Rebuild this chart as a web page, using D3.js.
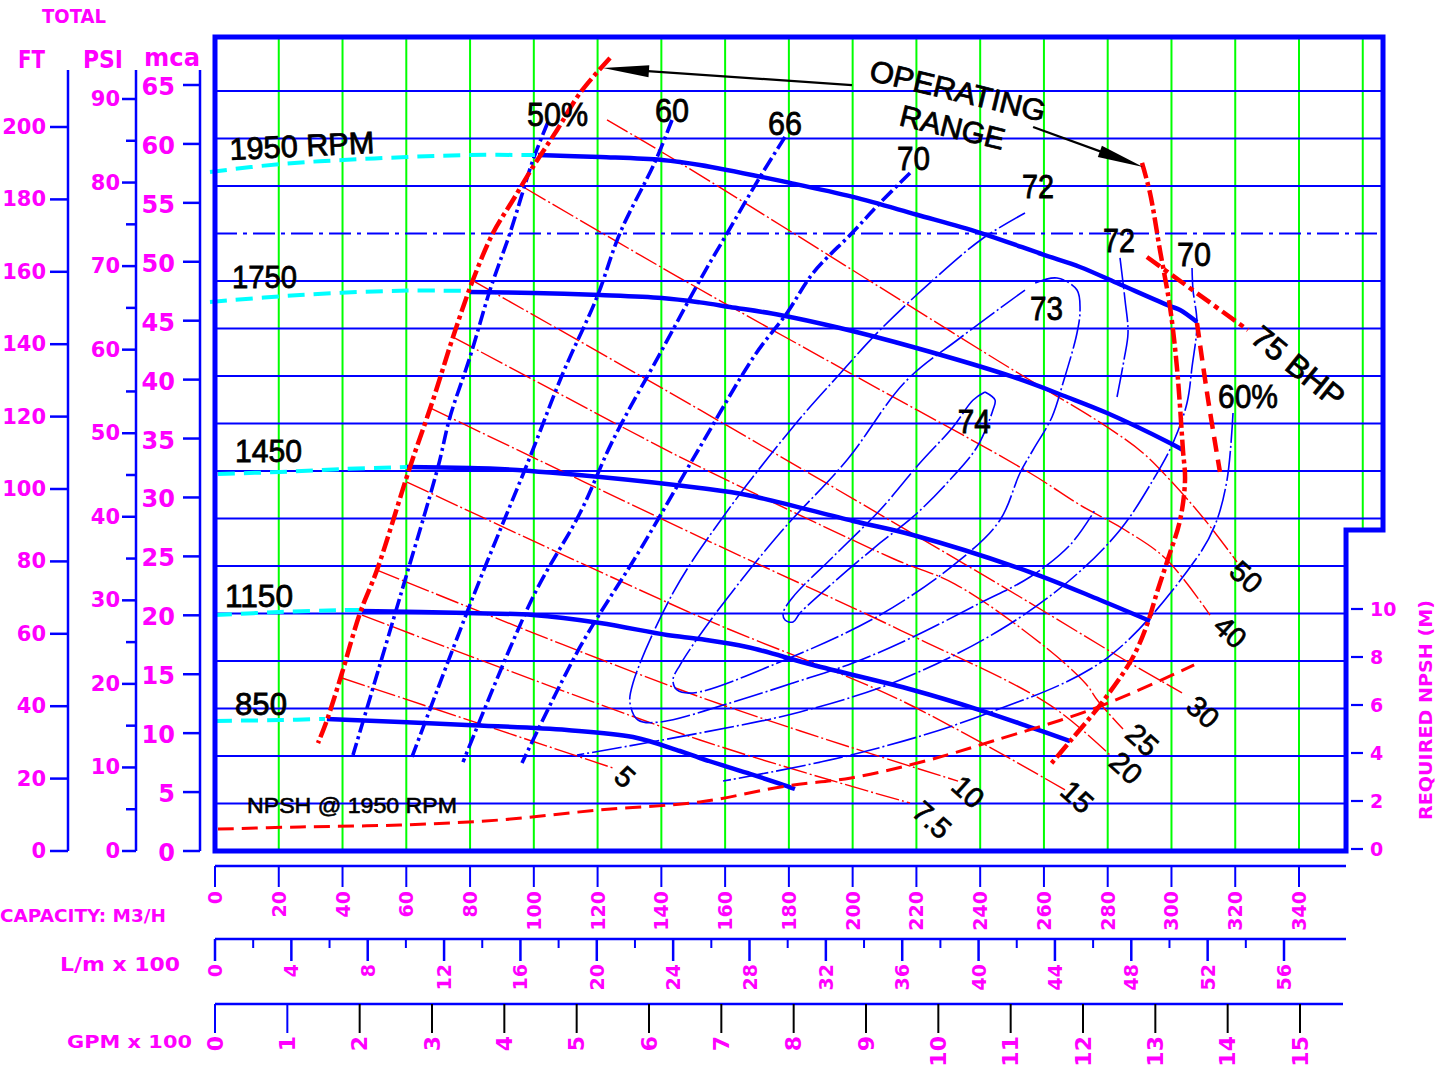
<!DOCTYPE html>
<html><head><meta charset="utf-8">
<script src="https://cdn.jsdelivr.net/npm/d3@7/dist/d3.min.js"></script>
<style>body{margin:0;background:#fff}svg{display:block}</style>
</head><body>
<svg id="c" width="1437" height="1067"></svg>
<script>
// ---------------- DATA (Q in m3/h, H in m of water column) ----------------
const capTicks = d3.range(0, 341, 20);
const lmTicks = d3.range(0, 57, 4);
const lmMinor = d3.range(2, 55, 4);
const gpmTicks = d3.range(0, 16, 1);
const ftTicks = d3.range(0, 201, 20);
const psiTicks = d3.range(0, 91, 10);
const psiMinor = d3.range(5, 86, 10);
const mcaTicks = d3.range(0, 66, 5);
const npshTicks = [0, 2, 4, 6, 8, 10];
const vGrid = d3.range(20, 361, 20);
const hGrid = d3.range(4, 65, 4);
const hGridDashDot = [52];
const frameTopH = 68.55, frameRightQ = 366.35, frameStepH = 27.03, frameInnerQ = 354.75;

// head curves: dashed part (cyan) and solid part (blue)
const rpm1950Ext = [[-1.57,57.18],[20.39,57.85],[40.15,58.19],[60.22,58.44],[79.98,58.61],[100.37,58.61]];
const rpm1950 = [[101.3,58.61],[120.8,58.44],[140.2,58.19],[152.1,57.77],[180.4,56.26],[200.1,55.08],[219.9,53.6],[240,52.06],[260,50.2],[271.3,49.18],[282.9,47.83],[299.5,45.89],[302.7,45.56],[308,44.55]];
const rpm1750Ext = [[-1.57,46.23],[26.66,46.82],[58.0,47.18],[80.0,47.16]];
const rpm1750 = [[80,47.07],[100,46.99],[120.8,46.82],[140.2,46.57],[152.1,46.2],[161.5,45.81],[177.2,45.14],[196,44.04],[218.9,42.44],[250.3,39.92],[267.2,38.23],[279.8,36.88],[299.5,34.36],[303.6,33.77]];
const rpm1450Ext = [[0.94,31.75],[20.39,31.92],[40.15,32.17],[60.22,32.34]];
const rpm1450 = [[60.22,32.34],[80,32.25],[89.4,32.17],[120.8,31.5],[152.1,30.57],[166.9,29.98],[200.1,27.79],[218.9,26.61],[255.6,23.49],[277.6,21.14],[293.3,19.37]];
const rpm1150Ext = [[0,19.87],[20.39,20.13],[40.15,20.29],[46.1,20.29]];
const rpm1150 = [[46.1,20.21],[79,20.04],[99.7,19.87],[120.8,19.2],[141.8,18.19],[152.1,17.85],[166.9,17.18],[187.6,15.66],[218.9,13.56],[239.9,11.87],[255.6,10.44],[268.2,9.26]];
const rpm850Ext = [[0,10.95],[20.39,11.03],[34.5,11.12]];
const rpm850 = [[35.1,11.12],[79,10.61],[110.4,10.19],[131.1,9.6],[145.8,8.42],[152.1,7.83],[166.9,6.57],[179.4,5.47],[181.9,5.22]];

// efficiency lines (thick dash-dot)
const eff50 = [[104.45,61.39],[99.74,58.19],[92.53,52.04],[86.26,47.24],[79.98,41.6],[73.71,36.55],[69.95,32.34],[58.03,21.39],[43.28,8.08]];
const eff60 = [[143.34,61.56],[138.0,58.02],[127.03,52.04],[119.82,46.65],[109.15,40.25],[98.8,33.18],[80.92,21.39],[61.79,7.92]];
const eff66 = [[178.78,60.13],[170.94,56.76],[159.96,51.71],[152.12,48.08],[140.2,42.19],[124.84,34.61],[114.49,28.46],[99.74,21.39],[77.79,7.49]];
const eff70 = [[217.99,57.09],[208.58,54.57],[199.8,52.04],[187.57,48.67],[179.41,45.31],[169.37,41.77],[152.12,34.02],[133.3,25.35],[114.49,17.18],[96.29,7.41]];
// efficiency contours (thin)
const eff72 = [[254.06,53.73],[240.89,51.6],[225.21,48.08],[208.58,43.87],[195.09,39.92],[181.29,35.71],[159.34,28.13],[143.65,21.73],[131.11,14.15],[130.17,12.46],[132.68,11.03],[139.58,10.86],[161.53,12.46],[181.29,14.15],[200.11,15.83],[218.93,18.02],[239.95,20.88],[255.63,23.07],[268.18,25.77],[276.02,28.72]];
const eff72b = [[282.92,38.23],[285.11,41.35],[286.37,43.62],[285.43,46.4],[283.86,49.94]];
const eff73 = [[254.06,47.24],[233.67,43.2],[216.42,39.49],[198.23,32.93],[177.21,26.78],[156.2,19.71],[145.85,15.66],[143.65,14.4],[144.91,13.56],[149.93,13.31],[177.21,15.92],[208.58,19.87],[233.67,24.51],[246.22,27.87],[252.49,31.83],[256.57,33.77],[262.53,36.55],[265.98,39.41],[270.37,43.62],[271.32,45.56],[270.37,47.24],[264.1,48.25],[257.2,47.83]];
const eff74 = [[241.5,38.65],[244.65,37.98],[244.0,37.14],[239.0,34.02],[229.6,30.99],[218.9,28.13],[208.6,25.94],[193.8,22.57],[183.5,20.04],[181.3,19.28],[178.8,19.45],[178.2,20.04],[181.3,21.39],[193.8,24.76],[208.6,28.72],[221.1,32.67],[231.5,35.71],[237.8,37.98],[241.5,38.65]];
const eff70b = [[306.45,49.09],[306.76,47.24],[308.01,44.46],[306.45,40.76],[304.87,37.73],[300.48,34.36],[294.21,31.24],[283.86,27.03],[268.18,22.82],[246.22,18.61],[214.85,14.4],[183.49,11.71],[152.12,9.94],[113.54,8.08]];
const eff60b = [[319.3,36.88],[317.42,31.24],[313.66,27.45],[307.7,24.59],[279.78,16.25],[240.89,11.45],[199.49,8.08],[159.34,5.89]];

// power lines (BHP)
const bhp50 = [[122.95,61.56],[145.85,57.94],[246.22,41.18],[279.78,35.71],[291.07,33.52],[299.54,31.24],[310.52,27.87],[320.55,24.34]];
const bhp40 = [[97.23,55.83],[145.85,48.25],[201.37,39.92],[255.63,31.83],[271.31,29.14],[285.43,27.03],[298.29,24.59],[312.09,19.87]];
const bhp30 = [[81.55,47.92],[152.12,37.14],[246.22,22.4],[284.8,16.17],[303.31,13.31]];
const bhp25 = [[74.65,43.28],[135.5,34.61],[152.12,32.34],[212.97,24.59],[232.11,22.48],[260.02,17.26],[273.2,14.06],[276.96,12.63],[284.8,10.27]];
const bhp20 = [[67.44,37.31],[152.12,26.44],[214.85,18.61],[261.9,12.29],[280.72,8.08]];
const bhp15 = [[60.22,31.07],[152.12,19.71],[214.85,12.72],[266.61,5.14]];
const bhp10 = [[50.81,23.66],[152.12,12.97],[233.05,5.89]];
const bhp75 = [[46.11,19.87],[152.12,9.35],[217.99,4.04]];
const bhp5 = [[39.83,14.57],[124.84,6.99]];
const bhpLimit = [[292.3,50.02],[324.0,43.87]];

// operating range
const rangeLeft = [[123.9,66.78],[114.5,63.83],[107.3,60.72],[99.7,57.6],[93.47,54.82],[87.2,52.04],[80.9,48.08],[74.65,43.28],[68.38,37.98],[61.16,32.34],[50.81,23.66],[45.48,20.04],[39.83,14.99],[35.13,11.03],[32.31,9.09]];
const rangeRight = [[290.76,57.94],[293.27,55.41],[296.4,50.58],[299.54,45.81],[301.7,40.76],[303.6,33.77],[304.25,31.24],[302.7,27.87],[298.9,24.59],[295.5,21.81],[292.3,19.03],[287.6,16.17],[277.6,12.29],[268.8,9.43],[262.2,7.33]];
const eff60Limit = [[308.0,44.46],[311.5,37.98],[315.2,31.92]];

// NPSH required at 1950 rpm (Q, NPSH m)
const npsh1950 = [[0.94,0.83],[26.66,0.92],[58,1.0],[89.4,1.21],[120.8,1.63],[152.1,1.96],[179.4,2.63],[199.5,2.96],[224,3.71],[244,4.5],[276.3,5.88],[307.1,7.67]];

// labels: [text, Q, H, width]
const rpmLabels = [["1950 RPM",4.7,58.19,145],["1750",5.33,47.41,65],["1450",6.27,32.76,67],["1150",3.14,20.55,68],["850",6.27,11.45,52]];
const effLabels = [["50%",97.86,61.05,61],["60",138.0,61.39,34],["66",173.45,60.29,34],["70",213.9,57.34,33],["72",253.1,54.99,32],["73",255.6,44.72,33],["72",278.5,50.44,32],["70",301.7,49.26,34],["60%",314.6,37.31,60],["74",233.0,35.2,33]];
const bhpLabels = [["50",323.4,23.07],["40",318.4,18.44],["30",309.9,11.7],["25",290.8,9.35],["20",285.7,6.99],["15",270.4,4.55],["10",236.2,4.97],["7.5",224.9,2.61],["5",128.6,6.23]];
const arrows = [[[199.8,64.5],[121.7,65.93]],[[256.6,60.97],[291.1,57.6]]];

// ---------------- SCALES ----------------
const x = d3.scaleLinear().domain([0,340]).range([215,1299]);
const y = d3.scaleLinear().domain([0,64]).range([851,91]);
const ftS = d3.scaleLinear().domain([0,200]).range([851,127]);
const psiS = d3.scaleLinear().domain([0,90]).range([851,99]);
const mcaS = d3.scaleLinear().domain([0,65]).range([851,85]);
const npS = d3.scaleLinear().domain([0,10]).range([849,609]);
const lmS = d3.scaleLinear().domain([0,56]).range([215,1284]);
const gpmS = d3.scaleLinear().domain([0,15]).range([215,1300]);

const svg = d3.select('#c');
const BLUE='#0000ff', GREEN='#00ff00', RED='#ff0000', CYAN='#00ffff', MAG='#ff00ff';
const line = d3.line().x(d=>x(d[0])).y(d=>y(d[1])).curve(d3.curveCatmullRom.alpha(0.5));
const lineN = d3.line().x(d=>x(d[0])).y(d=>npS(d[1])).curve(d3.curveCatmullRom.alpha(0.5));
function path(g, data, stroke, w, dash, gen){
  g.append('path').attr('d',(gen||line)(data)).attr('fill','none').attr('stroke',stroke)
   .attr('stroke-width',w).attr('stroke-dasharray',dash||null).attr('stroke-linejoin','round');
}
const g = svg.append('g');

// grid
vGrid.forEach(q=>{
  g.append('line').attr('x1',x(q)).attr('x2',x(q)).attr('y1',y(q>frameInnerQ?frameStepH:0)).attr('y2',y(frameTopH))
   .attr('stroke',GREEN).attr('stroke-width',2);
});
hGrid.forEach(h=>{
  g.append('line').attr('x1',x(0)).attr('x2',x(h>frameStepH?frameRightQ:frameInnerQ)).attr('y1',y(h)).attr('y2',y(h))
   .attr('stroke',BLUE).attr('stroke-width',2).attr('stroke-dasharray',hGridDashDot.includes(h)?'22,6,4,6':null);
});

// power lines (thin red)
[bhp50,bhp40,bhp30,bhp25,bhp20,bhp15,bhp10,bhp75,bhp5].forEach(d=>path(g,d,RED,1.4,'24,3,2,3'));
// thin efficiency contours
[eff72,eff72b,eff73,eff74,eff70b,eff60b].forEach(d=>path(g,d,BLUE,1.6,'30,3,2,3'));
// thick efficiency lines
[eff50,eff60,eff66,eff70].forEach(d=>path(g,d,BLUE,3.6,'14,4,3,4'));
// head curves
[rpm1950Ext,rpm1750Ext,rpm1450Ext,rpm1150Ext,rpm850Ext].forEach(d=>path(g,d,CYAN,4,'17,9'));
[rpm1950,rpm1750,rpm1450,rpm1150,rpm850].forEach(d=>path(g,d,BLUE,4.5));
// operating range
path(g,rangeLeft,RED,4.5,'16,4,4,4');
path(g,rangeRight,RED,4.5,'16,4,4,4');
path(g,bhpLimit,RED,4.5,'16,5,5,5');
path(g,eff60Limit,RED,4.5,'15,8');
path(g,npsh1950,RED,3,'16,8',lineN);

// frame
const fp = d3.path();
fp.moveTo(x(0),y(frameTopH)); fp.lineTo(x(frameRightQ),y(frameTopH)); fp.lineTo(x(frameRightQ),y(frameStepH));
fp.lineTo(x(frameInnerQ),y(frameStepH)); fp.lineTo(x(frameInnerQ),y(0)); fp.lineTo(x(0),y(0)); fp.closePath();
g.append('path').attr('d',fp.toString()).attr('fill','none').attr('stroke',BLUE).attr('stroke-width',5);

// ---------------- TEXT ----------------
const SANS='"Liberation Sans", Arial, sans-serif', CAD='"DejaVu Sans", sans-serif';
function text(s, px, py, o){
  o=o||{};
  const t = svg.append('text').attr('x',px).attr('y',py).text(s)
    .attr('font-family',o.ff||SANS).attr('font-size',o.fs||30).attr('fill',o.fill||'#000')
    .attr('font-weight',o.fw||'normal').attr('text-anchor',o.anchor||'start');
  if(o.sw) t.attr('stroke',o.fill||'#000').attr('stroke-width',o.sw);
  if(o.tl) t.attr('textLength',o.tl).attr('lengthAdjust','spacingAndGlyphs');
  if(o.db) t.attr('dominant-baseline',o.db);
  if(o.rot!=null) t.attr('transform',`rotate(${o.rot},${px},${py})`);
  return t;
}
rpmLabels.forEach((d,i)=>text(d[0],x(d[1]),y(d[2]),{fs:31,tl:d[3],sw:0.8,rot:i===0?-2.8:null}));
effLabels.forEach(d=>text(d[0],x(d[1]),y(d[2]),{fs:33,tl:d[3],sw:0.8}));
bhpLabels.forEach(d=>text(d[0],x(d[1]),y(d[2]),{fs:29,anchor:'middle',db:'central',rot:42,sw:0.7}));
text("75 BHP",x(339.7),y(40.76),{fs:31,anchor:'middle',db:'central',rot:39,tl:110,sw:0.8});
text("OPERATING",x(204.8),y(64.93),{fs:30,rot:13.5,tl:180,sw:0.8});
text("RANGE",x(214.2),y(61.14),{fs:30,rot:13.5,tl:107,sw:0.8});
text("NPSH @ 1950 RPM",x(10.04),y(3.2),{fs:22,tl:210,sw:0.6});

// arrows
arrows.forEach(a=>{
  const x1=x(a[0][0]),y1=y(a[0][1]),x2=x(a[1][0]),y2=y(a[1][1]);
  const L=Math.hypot(x2-x1,y2-y1), ux=(x2-x1)/L, uy=(y2-y1)/L, hl=46, hw=6;
  svg.append('line').attr('x1',x1).attr('y1',y1).attr('x2',x2-ux*hl*0.5).attr('y2',y2-uy*hl*0.5).attr('stroke','#000').attr('stroke-width',2.2);
  const bx=x2-ux*hl, by=y2-uy*hl;
  svg.append('polygon').attr('points',`${x2},${y2} ${bx-uy*hw},${by+ux*hw} ${bx+uy*hw},${by-ux*hw}`).attr('fill','#000');
});

// ---------------- LEFT AXES ----------------
const ax = svg.append('g');
function vline(px,y1,y2,w,c){ax.append('line').attr('x1',px).attr('x2',px).attr('y1',y1).attr('y2',y2).attr('stroke',c||BLUE).attr('stroke-width',w||2.5);}
function hline(y0,x1,x2,w,c){ax.append('line').attr('x1',x1).attr('x2',x2).attr('y1',y0).attr('y2',y0).attr('stroke',c||BLUE).attr('stroke-width',w||2.5);}
vline(68,70,851); vline(136,70,851); vline(200,70,851);
ftTicks.forEach(t=>{hline(ftS(t),50,68); text(t,46,ftS(t),{ff:CAD,fs:21,fill:MAG,fw:'bold',anchor:'end',db:'central'});});
psiTicks.forEach(t=>{hline(psiS(t),122,136); text(t,120,psiS(t),{ff:CAD,fs:21,fill:MAG,fw:'bold',anchor:'end',db:'central'});});
psiMinor.forEach(t=>hline(psiS(t),126,136));
mcaTicks.forEach(t=>{hline(mcaS(t),183,200); text(t,175,mcaS(t)+2,{ff:CAD,fs:24,fill:MAG,fw:'bold',anchor:'end',db:'central'});});
text("TOTAL",42,23,{ff:CAD,fs:20,fill:MAG,fw:'bold',tl:64});
text("FT",18,68,{ff:CAD,fs:25,fill:MAG,fw:'bold',tl:27});
text("PSI",83,68,{ff:CAD,fs:25,fill:MAG,fw:'bold',tl:40});
text("mca",144,66,{ff:CAD,fs:25,fill:MAG,fw:'bold',tl:56});

// ---------------- RIGHT NPSH AXIS ----------------
npshTicks.forEach(t=>{hline(npS(t),1351,1363,2.2); text(t,1370,npS(t),{ff:CAD,fs:19,fill:MAG,fw:'bold',db:'central'});});
text("REQUIRED NPSH (M)",1425,710,{ff:CAD,fs:18,fill:MAG,fw:'bold',anchor:'middle',db:'central',rot:-90,tl:220});

// ---------------- BOTTOM AXES ----------------
hline(866,215,1346,2.5);
capTicks.forEach(t=>{vline(x(t),866,887,2); text(t,x(t),891,{ff:CAD,fs:19,fill:MAG,fw:'bold',anchor:'end',db:'central',rot:-90});});
hline(939,215,1346,2.5);
lmTicks.forEach(t=>{vline(lmS(t),939,961,2.5); text(t,lmS(t),964,{ff:CAD,fs:19,fill:MAG,fw:'bold',anchor:'end',db:'central',rot:-90});});
lmMinor.forEach(t=>vline(lmS(t),939,948,2));
hline(1004,215,1343,2.5);
gpmTicks.forEach(t=>{vline(gpmS(t),1004,1033,2,t<2?BLUE:'#000'); text(t,gpmS(t),1036,{ff:CAD,fs:22,fill:MAG,fw:'bold',anchor:'end',db:'central',rot:-90});});
text("CAPACITY: M3/H",0,922,{ff:CAD,fs:17,fill:MAG,fw:'bold',tl:166});
text("L/m x 100",60,971,{ff:CAD,fs:19,fill:MAG,fw:'bold',tl:120});
text("GPM  x  100",67,1048,{ff:CAD,fs:18,fill:MAG,fw:'bold',tl:125});
</script></body></html>
